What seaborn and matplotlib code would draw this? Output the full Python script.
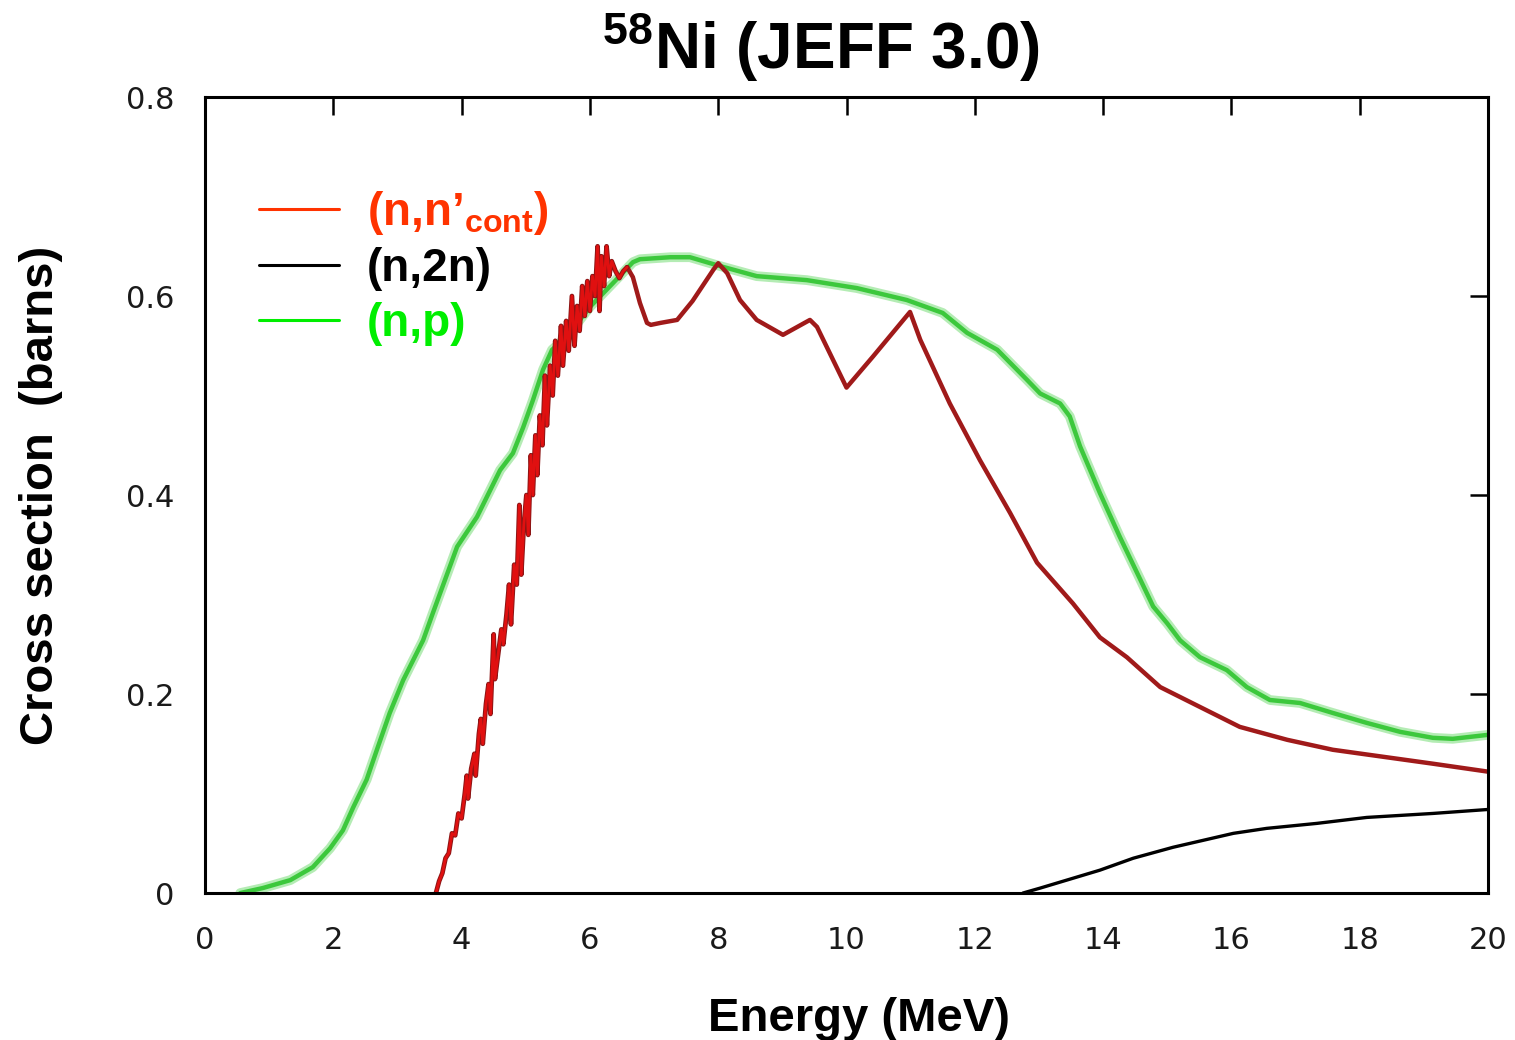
import numpy as np
import pandas as pd
import matplotlib
matplotlib.use("Agg")
import matplotlib.pyplot as plt
import seaborn as sns
from matplotlib.lines import Line2D

# (n,p) cross section
np_energy = [0.55, 0.9, 1.33, 1.68, 1.95, 2.15, 2.31, 2.52, 2.68, 2.88, 3.09, 3.40,
             3.55, 3.93, 4.24, 4.6, 4.8, 4.96, 5.11, 5.27, 5.41, 5.64, 6.0, 6.36,
             6.67, 6.78, 7.25, 7.56, 7.98, 8.6, 9.38, 10.16, 10.94, 11.5, 11.88,
             12.35, 12.81, 13.02, 13.33, 13.48, 13.64, 13.95, 14.26, 14.58, 14.78,
             15.0, 15.2, 15.51, 15.93, 16.24, 16.6, 17.07, 17.58, 18.11, 18.63,
             19.14, 19.45, 20.0]
np_xs = [0.0, 0.005, 0.013, 0.026, 0.045, 0.063, 0.086, 0.114, 0.144, 0.181, 0.214, 0.254,
         0.281, 0.348, 0.378, 0.425, 0.442, 0.468, 0.495, 0.526, 0.546, 0.559, 0.589, 0.613,
         0.634, 0.637, 0.639, 0.639, 0.631, 0.620, 0.616, 0.608, 0.596, 0.583, 0.563,
         0.546, 0.516, 0.502, 0.492, 0.479, 0.449, 0.402, 0.358, 0.315, 0.288,
         0.271, 0.254, 0.237, 0.224, 0.207, 0.194, 0.191, 0.181, 0.171, 0.162,
         0.156, 0.155, 0.159]

# (n,n'cont): resonance (jagged) part and smooth part
nn_low_energy = [3.60, 3.65, 3.70, 3.75, 3.80, 3.85, 3.90, 3.95, 4.00, 4.05, 4.08, 4.10,
                 4.15, 4.20, 4.22, 4.27, 4.30, 4.33, 4.38, 4.42, 4.45, 4.50, 4.52, 4.57,
                 4.62, 4.65, 4.70, 4.74, 4.77, 4.82, 4.86, 4.90, 4.93, 4.97, 5.01, 5.04,
                 5.08, 5.11, 5.15, 5.18, 5.22, 5.26, 5.30, 5.33, 5.38, 5.42, 5.46, 5.50,
                 5.55, 5.58, 5.63, 5.67, 5.72, 5.76, 5.80, 5.84, 5.88, 5.92, 5.96, 6.00,
                 6.04, 6.08, 6.12, 6.15, 6.18, 6.22, 6.26, 6.30, 6.34, 6.40, 6.46, 6.52,
                 6.58]
nn_low_xs = [0.000, 0.012, 0.020, 0.035, 0.040, 0.060, 0.058, 0.080, 0.075, 0.100, 0.118, 0.095,
             0.125, 0.140, 0.118, 0.160, 0.175, 0.150, 0.190, 0.210, 0.180, 0.260, 0.215, 0.240,
             0.265, 0.250, 0.280, 0.310, 0.270, 0.330, 0.310, 0.390, 0.320, 0.370, 0.400, 0.360,
             0.440, 0.400, 0.460, 0.420, 0.480, 0.450, 0.520, 0.470, 0.530, 0.500, 0.555, 0.520,
             0.570, 0.530, 0.575, 0.545, 0.600, 0.550, 0.590, 0.565, 0.610, 0.580, 0.615, 0.585,
             0.620, 0.600, 0.650, 0.585, 0.640, 0.610, 0.650, 0.620, 0.635, 0.625, 0.618, 0.625,
             0.629]
nn_high_energy = [6.58, 6.67, 6.78, 6.89, 6.95, 7.1, 7.36, 7.6, 7.92, 8.0, 8.14, 8.34, 8.6,
                  9.01, 9.43, 9.54, 10.0, 10.41, 10.99, 11.15, 11.61, 12.08, 12.55, 12.97,
                  13.53, 13.95, 14.37, 14.89, 15.51, 16.13, 16.87, 17.58, 18.36, 19.14, 20.0]
nn_high_xs = [0.629, 0.619, 0.593, 0.573, 0.571, 0.573, 0.576, 0.595, 0.626, 0.633, 0.623, 0.596, 0.576,
              0.561, 0.576, 0.569, 0.508, 0.539, 0.584, 0.556, 0.492, 0.435, 0.382, 0.332,
              0.291, 0.257, 0.237, 0.207, 0.187, 0.167, 0.154, 0.144, 0.137, 0.130, 0.122]

# (n,2n)
n2n_energy = [12.75, 13.02, 13.95, 14.47, 15.09, 16.03, 16.55, 17.33, 18.11, 19.14, 20.0]
n2n_xs = [0.0, 0.005, 0.023, 0.035, 0.046, 0.060, 0.065, 0.070, 0.076, 0.080, 0.084]

x_ticks = [0, 2, 4, 6, 8, 10, 12, 14, 16, 18, 20]
y_ticks = [0, 0.2, 0.4, 0.6, 0.8]
y_labels = ["0", "0.2", "0.4", "0.6", "0.8"]

legend_labels = ["(n,n\u2019$_{\\mathbf{cont}}$)", "(n,2n)", "(n,p)"]
legend_colors = ["#ff3300", "#000000", "#00ee00"]

sns.set_theme(style="white")
plt.rcParams["font.family"] = ["Liberation Sans", "DejaVu Sans"]
plt.rcParams["mathtext.fontset"] = "custom"
plt.rcParams["mathtext.bf"] = "Liberation Sans:bold"
plt.rcParams["mathtext.rm"] = "Liberation Sans"
plt.rcParams["text.color"] = "black"
plt.rcParams["axes.labelcolor"] = "black"

fig = plt.figure(figsize=(15.15, 10.4), dpi=100)
ax = fig.add_axes([0.1353, 0.1413, 0.8469, 0.7654])

df_np = pd.DataFrame({"E": np_energy, "xs": np_xs})
df_low = pd.DataFrame({"E": nn_low_energy, "xs": nn_low_xs})
df_high = pd.DataFrame({"E": nn_high_energy, "xs": nn_high_xs})
df_2n = pd.DataFrame({"E": n2n_energy, "xs": n2n_xs})

sns.lineplot(data=df_np, x="E", y="xs", ax=ax, color="#b4ecb4", lw=7, estimator=None, sort=False)
sns.lineplot(data=df_np, x="E", y="xs", ax=ax, color="#3cc83c", lw=3.2, estimator=None, sort=False)
sns.lineplot(data=df_high, x="E", y="xs", ax=ax, color="#a01a1a", lw=3.2, estimator=None, sort=False)
sns.lineplot(data=df_low, x="E", y="xs", ax=ax, color="#8c1515", lw=3.4, estimator=None, sort=False)
sns.lineplot(data=df_low, x="E", y="xs", ax=ax, color="#e01010", lw=2.0, estimator=None, sort=False)
sns.lineplot(data=df_2n, x="E", y="xs", ax=ax, color="black", lw=2.4, estimator=None, sort=False)

ax.set_xlim(0, 20)
ax.set_ylim(0, 0.8)
ax.set_xticks(x_ticks)
ax.set_yticks(y_ticks)
ax.set_yticklabels(y_labels)
ax.tick_params(direction="in", length=13, width=1.8, top=True, right=True,
               labelsize=22, colors="black", labelcolor="#1a1a1a")
ax.tick_params(axis="x", pad=24)
ax.tick_params(axis="y", pad=22)
for lab in ax.get_xticklabels() + ax.get_yticklabels():
    lab.set_family("DejaVu Sans")
for sp in ax.spines.values():
    sp.set_linewidth(2.2)
    sp.set_color("black")

ax.set_xlabel("Energy (MeV)", fontsize=34, fontweight="bold", color="black")
ax.set_ylabel("Cross section  (barns)", fontsize=34, fontweight="bold", color="black")
ax.xaxis.set_label_coords(0.51, -0.131)
ax.yaxis.set_label_coords(-0.111, 0.5)

fig.text(0.542, 0.955, "$^{\\mathbf{58}}$Ni (JEFF 3.0)", fontsize=46, fontweight="bold",
         ha="center", va="center", color="black")

handles = [Line2D([0], [0], color=c, lw=2.2) for c in legend_colors]
leg = ax.legend(handles, legend_labels, loc="upper left", bbox_to_anchor=(0.028, 0.907),
                frameon=False, handlelength=1.75, handletextpad=0.6, labelspacing=0.22,
                prop={"weight": "bold", "size": 33}, labelcolor=legend_colors, borderaxespad=0)

fig.savefig("out.png", dpi=100)
